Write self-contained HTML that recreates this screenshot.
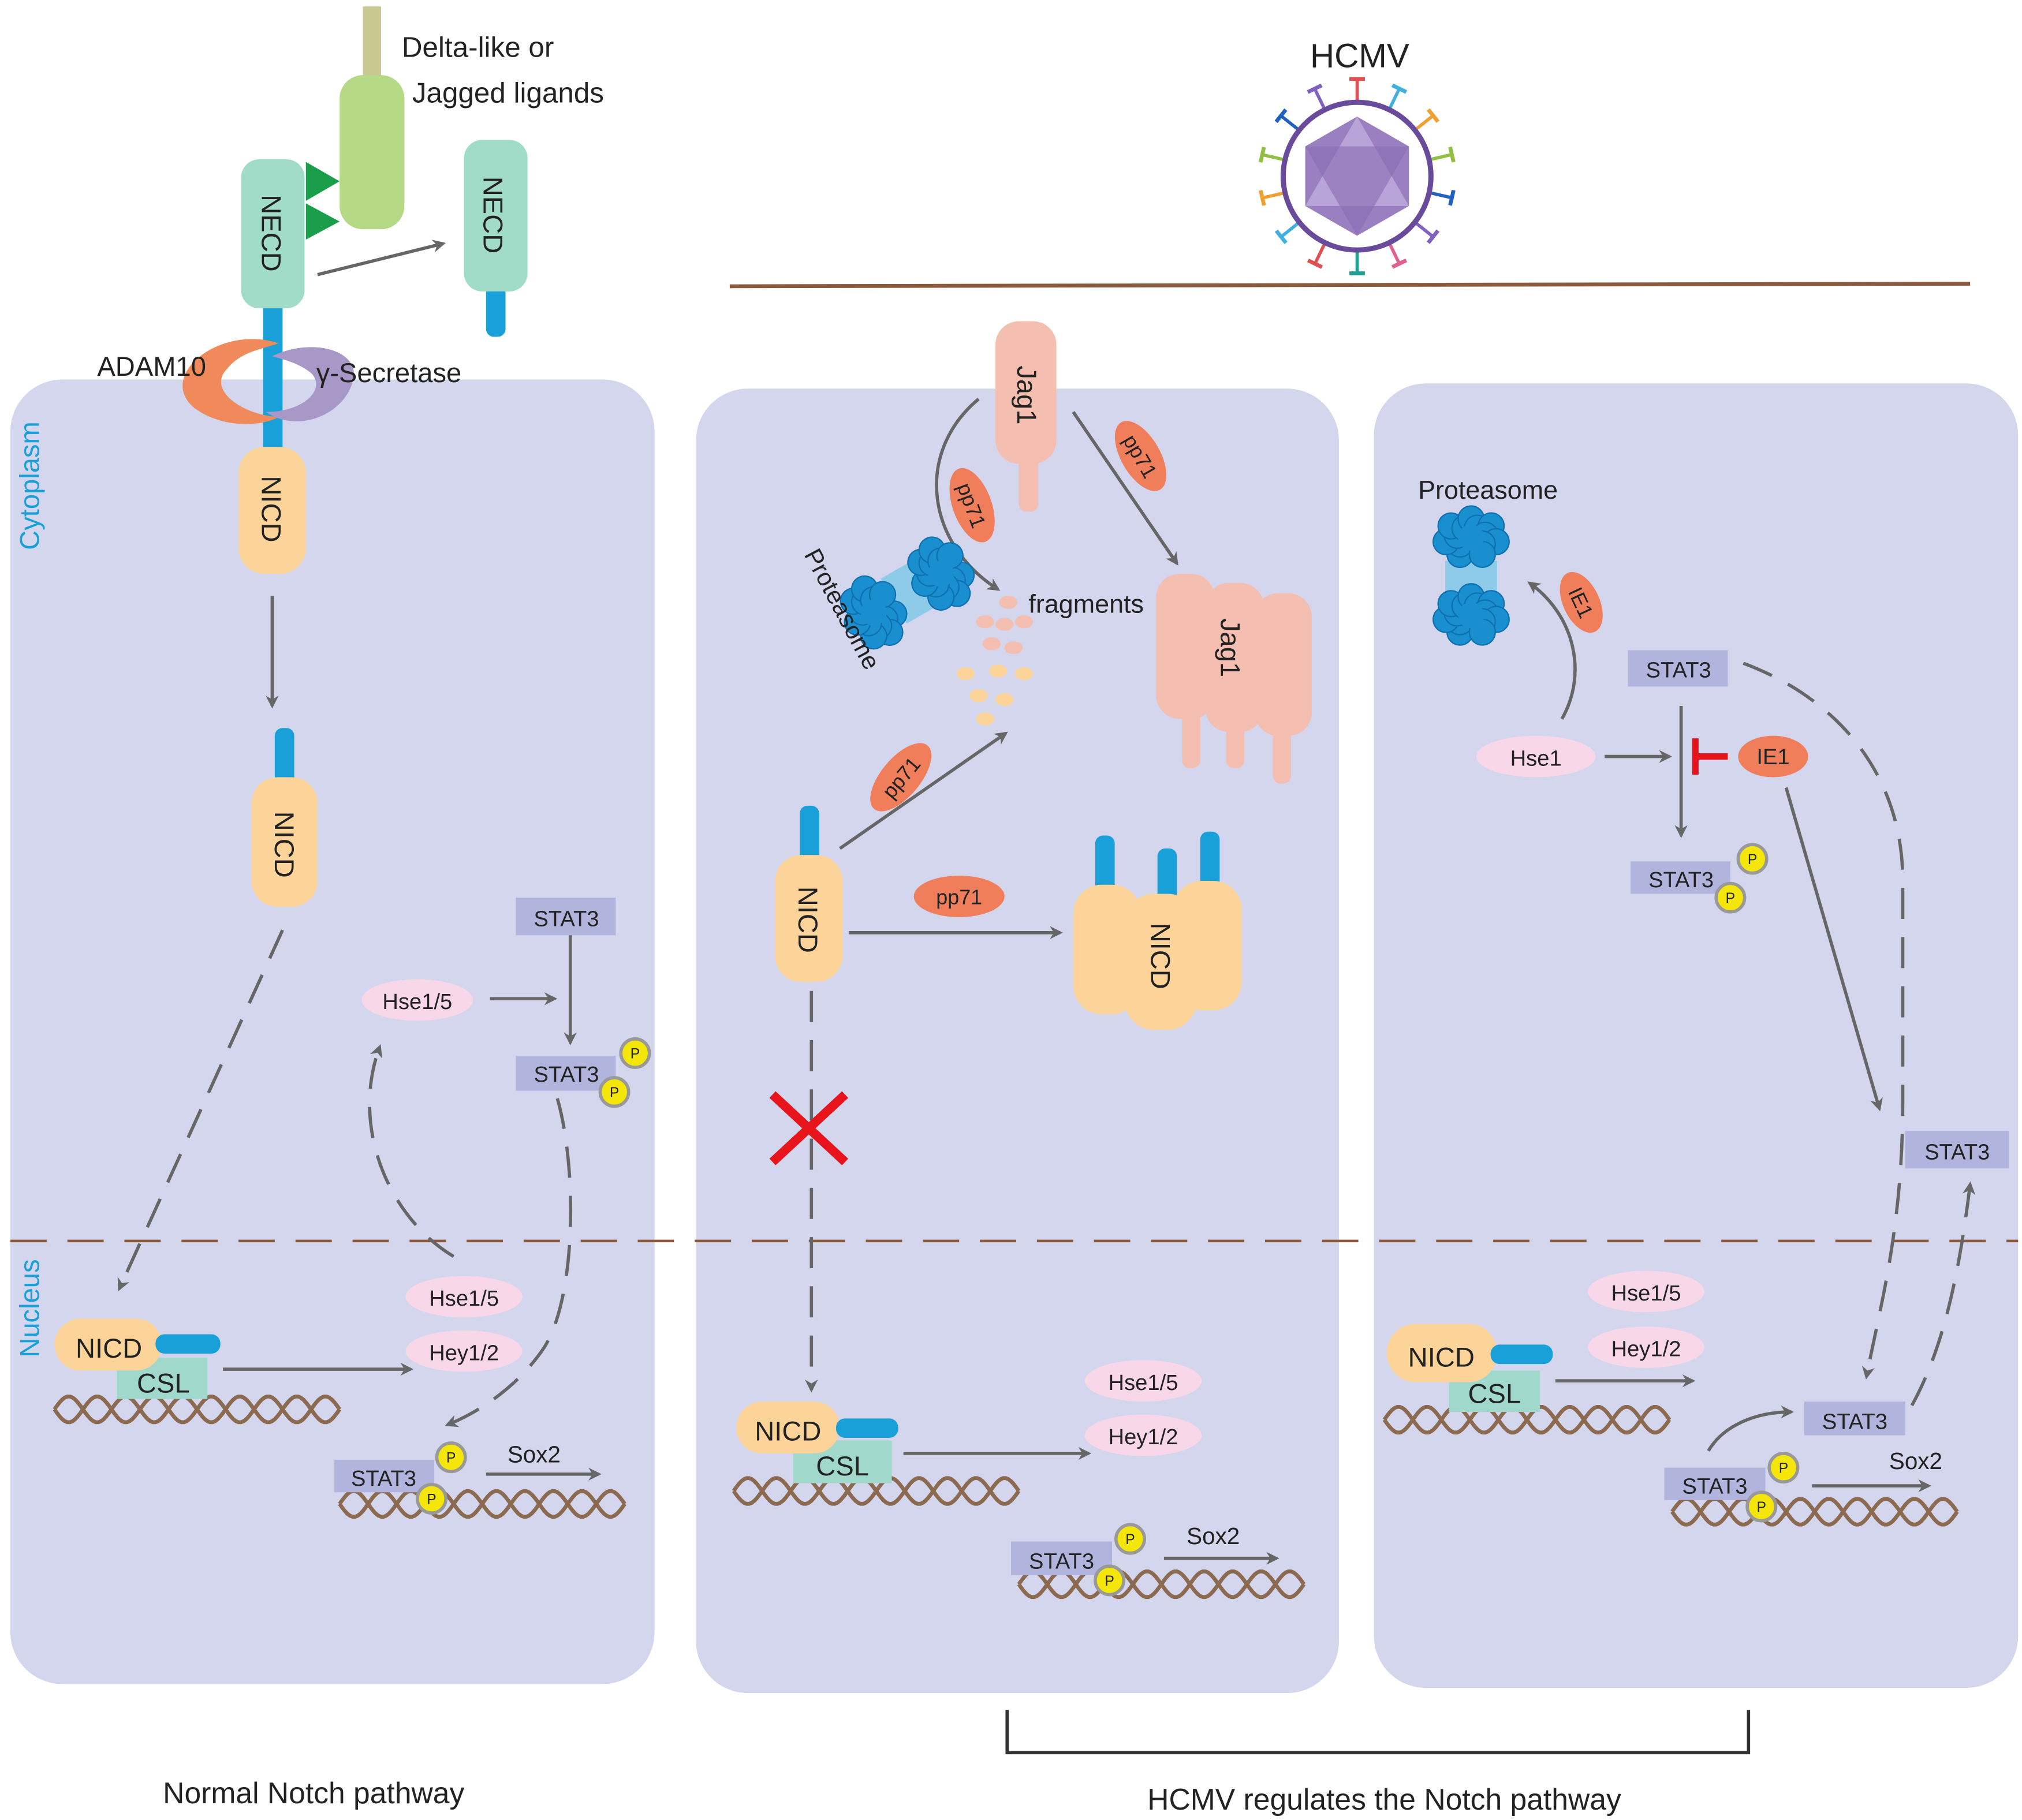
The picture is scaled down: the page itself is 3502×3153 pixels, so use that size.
<!DOCTYPE html>
<html><head><meta charset="utf-8"><style>
html,body{margin:0;padding:0;background:#fff}
svg{display:block}
text{font-family:"Liberation Sans",sans-serif;fill:#222}
</style></head><body>
<svg id="s" width="3502" height="3153" viewBox="0 0 1560 1405" preserveAspectRatio="none" xmlns="http://www.w3.org/2000/svg">
<defs>
<marker id="ah" markerWidth="10" markerHeight="10" refX="8" refY="5" orient="auto" markerUnits="userSpaceOnUse"><path d="M0,0 L10,5 L0,10 L3,5 z" fill="#666"/></marker>
</defs>
<rect width="1560" height="1405" fill="#fff"/>
<rect x="8" y="293" width="497" height="1007" rx="40" fill="#d3d6ec"/>
<rect x="537" y="300" width="496" height="1007" rx="40" fill="#d3d6ec"/>
<rect x="1060" y="296" width="497" height="1007" rx="40" fill="#d3d6ec"/>
<line x1="8" y1="958" x2="1557" y2="958" stroke="#8b5a3c" stroke-width="2" stroke-dasharray="28,16"/>
<line x1="563" y1="221" x2="1520" y2="219" stroke="#8b5a3c" stroke-width="3"/>
<path d="M777,1320 V1353 H1349 V1320" fill="none" stroke="#333" stroke-width="2.5"/>
<text x="242" y="1392" font-size="23" text-anchor="middle">Normal Notch pathway</text>
<text x="1068" y="1397" font-size="23" text-anchor="middle">HCMV regulates the Notch pathway</text>
<text transform="translate(30,375) rotate(-90)" font-size="21" style="fill:#1aa0d8" text-anchor="middle">Cytoplasm</text>
<text transform="translate(30,1010) rotate(-90)" font-size="21" style="fill:#1aa0d8" text-anchor="middle">Nucleus</text>

<text x="1049" y="52" font-size="26" text-anchor="middle">HCMV</text>
<g id="spikes"></g>
<circle cx="1047" cy="136" r="57" fill="#fff" stroke="#6a4a9a" stroke-width="4"/>
<polygon points="1047,90 1087,113 1087,159 1047,182 1007,159 1007,113" fill="#9a80c0"/>
<polygon points="1047,90 1087,159 1007,159" fill="#b9a4d8"/>
<polygon points="1047,182 1007,113 1087,113" fill="#8a6cb4" opacity="0.6"/>

<rect x="280" y="5" width="14" height="65" fill="#c8c890"/>
<rect x="262" y="58" width="50" height="119" rx="18" fill="#b5d985"/>
<text x="310" y="44" font-size="22">Delta-like or</text>
<text x="318" y="79" font-size="22">Jagged ligands</text>
<polygon points="236,125 262,140 236,155" fill="#1a9e4a"/>
<polygon points="236,157 262,171 236,185" fill="#1a9e4a"/>
<rect x="203" y="236" width="15" height="115" fill="#1aa0d8"/>
<rect x="186" y="123" width="49" height="115" rx="14" fill="#a0dcc8"/>
<text transform="translate(202,180) rotate(90)" font-size="21" text-anchor="middle">NECD</text>
<line x1="245" y1="212" x2="342" y2="188" stroke="#666" stroke-width="2.5" marker-end="url(#ah)"/>
<rect x="375" y="220" width="15" height="40" rx="6" fill="#1aa0d8"/>
<rect x="358" y="108" width="49" height="117" rx="14" fill="#a0dcc8"/>
<text transform="translate(373,166) rotate(90)" font-size="21" text-anchor="middle">NECD</text>
<path d="M215,265 C170,250 120,290 150,315 C170,330 200,330 215,322 C185,320 160,300 175,285 C185,272 200,270 215,265z" fill="#f08a5a"/>
<path d="M210,275 C240,260 280,270 272,295 C265,320 230,335 205,318 C235,318 252,300 240,288 C230,280 220,278 210,275z" fill="#a898c8"/>
<text x="75" y="290" font-size="21">ADAM10</text>
<text x="244" y="295" font-size="21">γ-Secretase</text>
<rect x="184" y="345" width="52" height="98" rx="20" fill="#fcd49a"/>
<text transform="translate(202,393) rotate(90)" font-size="21" text-anchor="middle">NICD</text>
<line x1="210" y1="460" x2="210" y2="545" stroke="#666" stroke-width="2.5" marker-end="url(#ah)"/>
<rect x="212" y="562" width="15" height="45" rx="6" fill="#1aa0d8"/>
<rect x="194" y="600" width="51" height="100" rx="20" fill="#fcd49a"/>
<text transform="translate(212,652) rotate(90)" font-size="21" text-anchor="middle">NICD</text>
<line x1="218" y1="718" x2="92" y2="995" stroke="#666" stroke-width="2.5" stroke-dasharray="24,14" marker-end="url(#ah)"/>
<rect x="398" y="693" width="77" height="29" fill="#b1b4dc"/><text x="437" y="715" font-size="17" text-anchor="middle">STAT3</text>
<line x1="440" y1="722" x2="440" y2="805" stroke="#666" stroke-width="2.5" marker-end="url(#ah)"/>
<ellipse cx="322" cy="772" rx="43" ry="16" fill="#f8d8e8"/><text x="322" y="779" font-size="17" text-anchor="middle">Hse1/5</text>
<line x1="378" y1="771" x2="428" y2="771" stroke="#666" stroke-width="2.5" marker-end="url(#ah)"/>
<rect x="398" y="815" width="77" height="27" fill="#b1b4dc"/><text x="437" y="835" font-size="17" text-anchor="middle">STAT3</text>
<g class="P" data-x="490" data-y="813"></g><g class="P" data-x="474" data-y="843"></g>
<path d="M430,848 C445,900 445,1000 420,1040 C400,1070 370,1090 345,1100" fill="none" stroke="#666" stroke-width="2.5" stroke-dasharray="24,14" marker-end="url(#ah)"/>
<path d="M350,970 C300,940 270,870 293,808" fill="none" stroke="#666" stroke-width="2.5" stroke-dasharray="24,14" marker-end="url(#ah)"/>
<g class="dna" data-x="42" data-y="1088" data-w="220"></g>
<rect x="90" y="1048" width="70" height="32" fill="#a0d8cc"/>
<rect x="42" y="1018" width="83" height="40" rx="20" fill="#fcd49a"/>
<rect x="120" y="1030" width="50" height="15" rx="7" fill="#1aa0d8"/>
<text x="84" y="1048" font-size="21" text-anchor="middle">NICD</text>
<text x="126" y="1075" font-size="21" text-anchor="middle">CSL</text>
<line x1="172" y1="1057" x2="317" y2="1057" stroke="#666" stroke-width="2.5" marker-end="url(#ah)"/>
<ellipse cx="358" cy="1001" rx="45" ry="16" fill="#f8d8e8"/><text x="358" y="1008" font-size="17" text-anchor="middle">Hse1/5</text>
<ellipse cx="358" cy="1043" rx="45" ry="16" fill="#f8d8e8"/><text x="358" y="1050" font-size="17" text-anchor="middle">Hey1/2</text>
<g class="dna" data-x="262" data-y="1161" data-w="220"></g>
<rect x="258" y="1127" width="77" height="25" fill="#b1b4dc"/><text x="296" y="1147" font-size="17" text-anchor="middle">STAT3</text>
<g class="P" data-x="348" data-y="1125"></g><g class="P" data-x="333" data-y="1157"></g>
<text x="412" y="1129" font-size="18" text-anchor="middle">Sox2</text>
<line x1="375" y1="1138" x2="462" y2="1138" stroke="#666" stroke-width="2.5" marker-end="url(#ah)"/>

<rect x="786" y="350" width="15" height="45" rx="6" fill="#f4bfb0"/>
<rect x="768" y="248" width="47" height="110" rx="18" fill="#f4bfb0"/>
<text transform="translate(785,305) rotate(90)" font-size="21" text-anchor="middle">Jag1</text>
<path d="M755,308 C705,350 715,420 770,455" fill="none" stroke="#666" stroke-width="2.5" marker-end="url(#ah)"/>
<line x1="828" y1="318" x2="908" y2="435" stroke="#666" stroke-width="2.5" marker-end="url(#ah)"/>
<g transform="translate(750,390) rotate(70)"><ellipse rx="30" ry="15" fill="#f07e5a"/><text y="6" font-size="16" text-anchor="middle">pp71</text></g>
<g transform="translate(880,352) rotate(60)"><ellipse rx="30" ry="15" fill="#f07e5a"/><text y="6" font-size="16" text-anchor="middle">pp71</text></g>
<g id="prot1" transform="translate(700,458) rotate(-30)"></g>
<text transform="translate(620,428) rotate(62)" font-size="19">Proteasome</text>
<text x="838" y="473" font-size="20" text-anchor="middle">fragments</text>
<g id="frags"></g>
<g fill="#f4bfb0">
<rect x="912" y="540" width="14" height="53" rx="6"/><rect x="946" y="540" width="14" height="53" rx="6"/><rect x="982" y="540" width="14" height="65" rx="6"/>
<rect x="892" y="443" width="45" height="112" rx="18"/><rect x="930" y="450" width="45" height="115" rx="18"/><rect x="968" y="458" width="44" height="110" rx="18"/>
</g>
<text transform="translate(942,500) rotate(90)" font-size="21" text-anchor="middle">Jag1</text>
<rect x="617" y="622" width="15" height="45" rx="6" fill="#1aa0d8"/>
<rect x="598" y="660" width="52" height="98" rx="20" fill="#fcd49a"/>
<text transform="translate(616,710) rotate(90)" font-size="21" text-anchor="middle">NICD</text>
<line x1="648" y1="655" x2="776" y2="566" stroke="#666" stroke-width="2.5" marker-end="url(#ah)"/>
<g transform="translate(695,600) rotate(-50)"><ellipse rx="32" ry="15" fill="#f07e5a"/><text y="6" font-size="16" text-anchor="middle">pp71</text></g>
<ellipse cx="740" cy="692" rx="35" ry="16" fill="#f07e5a"/><text x="740" y="698" font-size="16" text-anchor="middle">pp71</text>
<line x1="655" y1="720" x2="818" y2="720" stroke="#666" stroke-width="2.5" marker-end="url(#ah)"/>
<g fill="#1aa0d8"><rect x="845" y="645" width="15" height="45" rx="6"/><rect x="893" y="655" width="15" height="45" rx="6"/><rect x="926" y="642" width="15" height="45" rx="6"/></g>
<g fill="#fcd49a"><rect x="828" y="683" width="52" height="100" rx="22"/><rect x="868" y="690" width="55" height="105" rx="22"/><rect x="905" y="680" width="53" height="100" rx="22"/></g>
<text transform="translate(888,738) rotate(90)" font-size="21" text-anchor="middle">NICD</text>
<line x1="626" y1="765" x2="626" y2="1073" stroke="#666" stroke-width="2.5" stroke-dasharray="24,14" marker-end="url(#ah)"/>
<g stroke="#e8141c" stroke-width="7"><line x1="596" y1="845" x2="652" y2="897"/><line x1="652" y1="845" x2="596" y2="897"/></g>
<g class="dna" data-x="566" data-y="1151" data-w="220"></g>
<rect x="612" y="1112" width="76" height="33" fill="#a0d8cc"/>
<rect x="568" y="1082" width="80" height="40" rx="20" fill="#fcd49a"/>
<rect x="645" y="1095" width="48" height="15" rx="7" fill="#1aa0d8"/>
<text x="608" y="1112" font-size="21" text-anchor="middle">NICD</text>
<text x="650" y="1139" font-size="21" text-anchor="middle">CSL</text>
<line x1="697" y1="1122" x2="840" y2="1122" stroke="#666" stroke-width="2.5" marker-end="url(#ah)"/>
<ellipse cx="882" cy="1066" rx="45" ry="16" fill="#f8d8e8"/><text x="882" y="1073" font-size="17" text-anchor="middle">Hse1/5</text>
<ellipse cx="882" cy="1108" rx="45" ry="16" fill="#f8d8e8"/><text x="882" y="1115" font-size="17" text-anchor="middle">Hey1/2</text>
<g class="dna" data-x="786" data-y="1223" data-w="220"></g>
<rect x="780" y="1190" width="78" height="26" fill="#b1b4dc"/><text x="819" y="1211" font-size="17" text-anchor="middle">STAT3</text>
<g class="P" data-x="872" data-y="1188"></g><g class="P" data-x="856" data-y="1220"></g>
<text x="936" y="1192" font-size="18" text-anchor="middle">Sox2</text>
<line x1="898" y1="1203" x2="985" y2="1203" stroke="#666" stroke-width="2.5" marker-end="url(#ah)"/>

<text x="1148" y="385" font-size="20" text-anchor="middle">Proteasome</text>
<g id="prot2" transform="translate(1135,445) rotate(90)"></g>
<path d="M1205,555 C1225,520 1215,475 1180,450" fill="none" stroke="#666" stroke-width="2.5" marker-end="url(#ah)"/>
<g transform="translate(1220,465) rotate(65)"><ellipse rx="25" ry="14" fill="#f07e5a"/><text y="6" font-size="16" text-anchor="middle">IE1</text></g>
<rect x="1256" y="502" width="77" height="28" fill="#b1b4dc"/><text x="1295" y="523" font-size="17" text-anchor="middle">STAT3</text>
<path d="M1345,512 C1420,540 1468,600 1468,680 L1468,850 C1468,950 1450,1010 1440,1063" fill="none" stroke="#666" stroke-width="2.5" stroke-dasharray="24,14" marker-end="url(#ah)"/>
<line x1="1297" y1="545" x2="1297" y2="645" stroke="#666" stroke-width="2.5" marker-end="url(#ah)"/>
<ellipse cx="1185" cy="584" rx="46" ry="16" fill="#f8d8e8"/><text x="1185" y="591" font-size="17" text-anchor="middle">Hse1</text>
<line x1="1238" y1="584" x2="1288" y2="584" stroke="#666" stroke-width="2.5" marker-end="url(#ah)"/>
<g stroke="#e8141c" stroke-width="5"><line x1="1307" y1="584" x2="1333" y2="584"/><line x1="1308" y1="570" x2="1308" y2="598"/></g>
<ellipse cx="1368" cy="584" rx="27" ry="16" fill="#f07e5a"/><text x="1368" y="590" font-size="17" text-anchor="middle">IE1</text>
<rect x="1258" y="665" width="77" height="25" fill="#b1b4dc"/><text x="1297" y="685" font-size="17" text-anchor="middle">STAT3</text>
<g class="P" data-x="1352" data-y="663"></g><g class="P" data-x="1335" data-y="693"></g>
<line x1="1378" y1="608" x2="1450" y2="856" stroke="#666" stroke-width="2.5" marker-end="url(#ah)"/>
<rect x="1470" y="873" width="80" height="29" fill="#b1b4dc"/><text x="1510" y="895" font-size="17" text-anchor="middle">STAT3</text>
<path d="M1475,1085 C1500,1040 1512,980 1520,914" fill="none" stroke="#666" stroke-width="2.5" stroke-dasharray="24,14" marker-end="url(#ah)"/>
<g class="dna" data-x="1068" data-y="1096" data-w="220"></g>
<rect x="1118" y="1058" width="70" height="32" fill="#a0d8cc"/>
<rect x="1070" y="1022" width="85" height="45" rx="22" fill="#fcd49a"/>
<rect x="1150" y="1038" width="48" height="15" rx="7" fill="#1aa0d8"/>
<text x="1112" y="1055" font-size="21" text-anchor="middle">NICD</text>
<text x="1153" y="1083" font-size="21" text-anchor="middle">CSL</text>
<line x1="1200" y1="1066" x2="1306" y2="1066" stroke="#666" stroke-width="2.5" marker-end="url(#ah)"/>
<ellipse cx="1270" cy="997" rx="45" ry="16" fill="#f8d8e8"/><text x="1270" y="1004" font-size="17" text-anchor="middle">Hse1/5</text>
<ellipse cx="1270" cy="1040" rx="45" ry="16" fill="#f8d8e8"/><text x="1270" y="1047" font-size="17" text-anchor="middle">Hey1/2</text>
<rect x="1392" y="1082" width="78" height="26" fill="#b1b4dc"/><text x="1431" y="1103" font-size="17" text-anchor="middle">STAT3</text>
<path d="M1318,1120 C1330,1100 1355,1090 1382,1090" fill="none" stroke="#666" stroke-width="2.5" marker-end="url(#ah)"/>
<g class="dna" data-x="1290" data-y="1167" data-w="220"></g>
<rect x="1284" y="1133" width="78" height="25" fill="#b1b4dc"/><text x="1323" y="1153" font-size="17" text-anchor="middle">STAT3</text>
<g class="P" data-x="1376" data-y="1133"></g><g class="P" data-x="1359" data-y="1163"></g>
<text x="1478" y="1134" font-size="18" text-anchor="middle">Sox2</text>
<line x1="1398" y1="1147" x2="1488" y2="1147" stroke="#666" stroke-width="2.5" marker-end="url(#ah)"/>
</svg>
<script>
var NS="http://www.w3.org/2000/svg";
function el(p,t,a){var e=document.createElementNS(NS,t);for(var k in a)e.setAttribute(k,a[k]);p.appendChild(e);return e;}
document.querySelectorAll('.dna').forEach(function(g){
 var x=+g.dataset.x,y=+g.dataset.y,w=+g.dataset.w,a="",b="";
 for(var i=0;i<=w;i+=2){var s=Math.sin(i/w*2*Math.PI*5)*10;a+=(i?"L":"M")+(x+i)+","+(y+s);b+=(i?"L":"M")+(x+i)+","+(y-s);}
 el(g,'path',{d:a,fill:'none',stroke:'#8b6a50','stroke-width':3});
 el(g,'path',{d:b,fill:'none',stroke:'#8b6a50','stroke-width':3});
});
document.querySelectorAll('.P').forEach(function(g){
 var x=+g.dataset.x,y=+g.dataset.y;
 el(g,'circle',{cx:x,cy:y,r:11,fill:'#f5e60a',stroke:'#999','stroke-width':2.5});
 var t=el(g,'text',{x:x,y:y+4,'font-size':11,'text-anchor':'middle'});t.textContent='P';
});
function prot(g){
 el(g,'rect',{x:-12,y:-20,width:24,height:40,fill:'#7cc8e8',opacity:0.8});
 [[-30,0],[30,0]].forEach(function(c){
  for(var i=0;i<14;i++){var an=i/14*6.28,r=i%2?18:10;el(g,'circle',{cx:c[0]+Math.cos(an)*r*0.8,cy:c[1]+Math.sin(an)*r*1.1,r:10,fill:'#1a8fd0',stroke:'#0f70b0','stroke-width':1});}
  el(g,'circle',{cx:c[0],cy:c[1],r:10,fill:'#1a8fd0'});
 });
}
prot(document.getElementById('prot1'));prot(document.getElementById('prot2'));
var f=document.getElementById('frags');
[[778,465,'#f4bfb0'],[760,480,'#f4bfb0'],[775,482,'#f4bfb0'],[790,480,'#f4bfb0'],[765,497,'#f4bfb0'],[782,500,'#f4bfb0'],[745,520,'#fcd49a'],[770,518,'#fcd49a'],[790,520,'#fcd49a'],[755,537,'#fcd49a'],[775,540,'#fcd49a'],[760,555,'#fcd49a']].forEach(function(p){el(f,'ellipse',{cx:p[0],cy:p[1],rx:7,ry:5,fill:p[2]});});
var sp=document.getElementById('spikes'),cols=['#e05050','#40b0e0','#f0a030','#90c040','#2060c0','#8060c0','#e06090','#20a090'];
for(var i=0;i<14;i++){var an=i/14*6.28-1.57,x1=1047+Math.cos(an)*57,y1=136+Math.sin(an)*57,x2=1047+Math.cos(an)*75,y2=136+Math.sin(an)*75,c=cols[i%8];
 el(sp,'line',{x1:x1,y1:y1,x2:x2,y2:y2,stroke:c,'stroke-width':2.5});
 var px=-Math.sin(an)*6,py=Math.cos(an)*6;
 el(sp,'line',{x1:x2+px,y1:y2+py,x2:x2-px,y2:y2-py,stroke:c,'stroke-width':3});}
</script>
</body></html>
